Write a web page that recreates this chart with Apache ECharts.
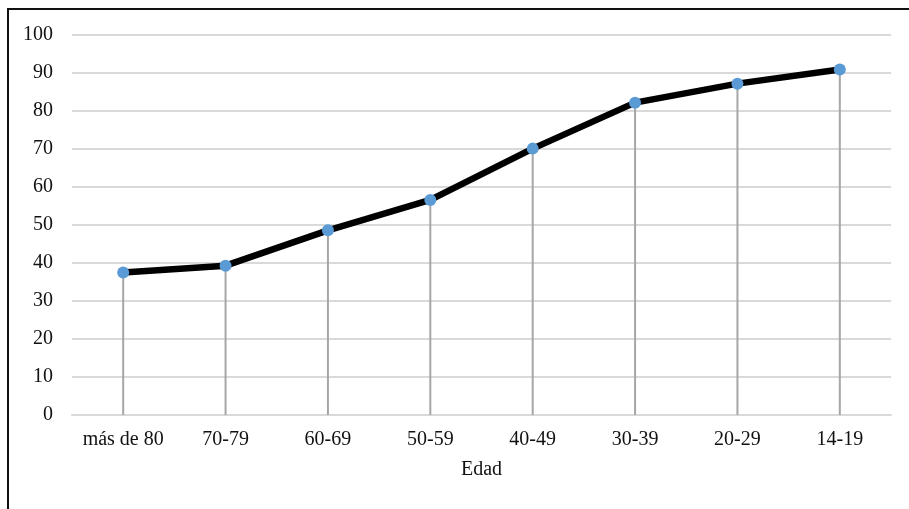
<!DOCTYPE html>
<html>
<head>
<meta charset="utf-8">
<script src="https://cdn.jsdelivr.net/npm/echarts@6/dist/echarts.min.js"></script>
<style>
  html, body { margin: 0; padding: 0; background: #fff; }
  #chart { width: 909px; height: 509px; }
</style>
</head>
<body>
<div id="chart"></div>
<script>
// Age groups, oldest to youngest
const categories = ['más de 80', '70-79', '60-69', '50-59', '40-49', '30-39', '20-29', '14-19'];
// Percentage per age group
const values = [37.5, 39.3, 48.6, 56.6, 70.1, 82.2, 87.2, 90.9];
// Value-axis range and step
const yMin = 0;
const yMax = 100;
const yStep = 10;
const xAxisTitle = 'Edad';

const serif = '"Liberation Serif", "DejaVu Serif", serif';

const chart = echarts.init(document.getElementById('chart'), null, { renderer: 'canvas' });

chart.setOption({
  animation: false,
  backgroundColor: '#ffffff',
  graphic: [{
    type: 'rect',
    shape: { x: 8, y: 9, width: 960, height: 560 },
    style: { fill: 'none', stroke: '#111', lineWidth: 2 },
    silent: true
  }],
  grid: { left: 72, right: 18, top: 35, bottom: 94 },
  xAxis: {
    type: 'category',
    data: categories,
    boundaryGap: true,
    axisLine: { show: true, lineStyle: { color: '#d9d9d9', width: 2 } },
    axisTick: { show: false },
    axisLabel: { color: '#111', fontFamily: serif, fontSize: 20, margin: 15, interval: 0 },
    name: xAxisTitle,
    nameLocation: 'middle',
    nameGap: 45,
    nameTextStyle: { color: '#111', fontFamily: serif, fontSize: 20 }
  },
  yAxis: {
    type: 'value',
    min: yMin,
    max: yMax,
    interval: yStep,
    axisLine: { show: false },
    axisTick: { show: false },
    axisLabel: { color: '#111', fontFamily: serif, fontSize: 20, margin: 19 },
    splitLine: { lineStyle: { color: '#d9d9d9', width: 2 } }
  },
  series: [
    {
      // grey drop lines from each point down to the axis
      type: 'bar',
      data: values,
      barWidth: 2,
      itemStyle: { color: '#a6a6a6' },
      silent: true,
      z: 1
    },
    {
      type: 'line',
      data: values,
      symbol: 'circle',
      symbolSize: 12,
      showAllSymbol: true,
      lineStyle: { color: '#000', width: 6.5 },
      itemStyle: { color: '#5b9bd5', borderWidth: 0 },
      z: 3
    }
  ]
});
</script>
</body>
</html>
